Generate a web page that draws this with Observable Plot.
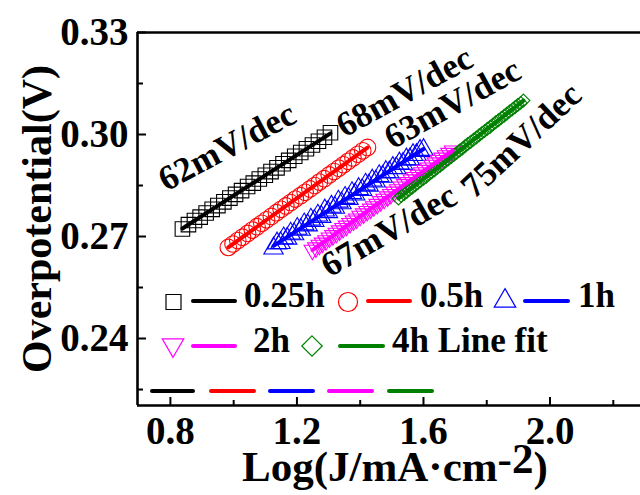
<!DOCTYPE html>
<html><head><meta charset="utf-8">
<script src="https://cdn.jsdelivr.net/npm/d3@7"></script>
<script src="https://cdn.jsdelivr.net/npm/@observablehq/plot@0.6"></script>
<style>body{margin:0;background:#fff}#chart svg{display:block}</style>
</head><body><div id="chart"></div>
<script>
// ---- data ----
const seriesNames = ["0.25h", "0.5h", "1h", "2h", "4h"];
const seriesColors = ["#000000", "#ff0000", "#0000ff", "#ff00ff", "#008000"];

const x025 = [0.838,0.857,0.876,0.894,0.913,0.932,0.950,0.969,0.988,1.006,1.025,1.044,1.062,1.081,1.100,1.118,1.137,1.156,1.174,1.193,1.212,1.230,1.249,1.268,1.287,1.306];
const y025 = [0.2722,0.2735,0.2747,0.2757,0.2769,0.2780,0.2791,0.2802,0.2813,0.2824,0.2835,0.2847,0.2857,0.2869,0.2880,0.2891,0.2902,0.2914,0.2924,0.2936,0.2947,0.2958,0.2969,0.2980,0.2992,0.3005];

const x05 = [0.983,0.998,1.013,1.028,1.044,1.059,1.074,1.089,1.104,1.119,1.135,1.150,1.165,1.180,1.195,1.211,1.226,1.241,1.256,1.271,1.286,1.302,1.317,1.332,1.347,1.362,1.377,1.393,1.408,1.423];
const y05 = [0.2668,0.2678,0.2688,0.2698,0.2709,0.2719,0.2729,0.2739,0.2749,0.2759,0.2770,0.2780,0.2790,0.2800,0.2810,0.2820,0.2830,0.2840,0.2850,0.2860,0.2870,0.2881,0.2891,0.2901,0.2911,0.2921,0.2931,0.2942,0.2952,0.2962];

const x1 = [1.126,1.137,1.148,1.158,1.169,1.180,1.191,1.201,1.212,1.223,1.234,1.244,1.255,1.266,1.277,1.288,1.298,1.309,1.320,1.331,1.341,1.352,1.363,1.374,1.384,1.395,1.406,1.417,1.427,1.438,1.449,1.460,1.471,1.481,1.492,1.503,1.514,1.524,1.535,1.546,1.557,1.567,1.578,1.589,1.600];
const y1 = [0.2665,0.2680,0.2681,0.2695,0.2694,0.2709,0.2707,0.2723,0.2720,0.2736,0.2733,0.2750,0.2746,0.2762,0.2758,0.2777,0.2772,0.2788,0.2785,0.2803,0.2798,0.2814,0.2811,0.2828,0.2824,0.2840,0.2837,0.2853,0.2850,0.2865,0.2862,0.2878,0.2876,0.2890,0.2889,0.2902,0.2901,0.2915,0.2914,0.2927,0.2927,0.2940,0.2940,0.2952,0.2955];

const x2 = [1.249,1.260,1.271,1.281,1.292,1.303,1.314,1.325,1.335,1.346,1.357,1.368,1.379,1.389,1.400,1.411,1.422,1.433,1.443,1.454,1.465,1.476,1.487,1.497,1.508,1.519,1.530,1.541,1.551,1.562,1.573,1.584,1.595,1.605,1.616,1.627,1.638,1.649,1.659,1.670,1.681,1.692];
const y2 = [0.2660,0.2667,0.2675,0.2681,0.2688,0.2696,0.2703,0.2710,0.2717,0.2724,0.2731,0.2739,0.2746,0.2752,0.2760,0.2767,0.2774,0.2781,0.2788,0.2795,0.2803,0.2810,0.2817,0.2824,0.2831,0.2838,0.2846,0.2853,0.2859,0.2867,0.2874,0.2881,0.2888,0.2895,0.2902,0.2910,0.2917,0.2924,0.2931,0.2938,0.2945,0.2952];

const x4 = [1.521,1.530,1.539,1.547,1.556,1.565,1.574,1.582,1.591,1.600,1.609,1.618,1.626,1.635,1.644,1.653,1.661,1.670,1.679,1.688,1.697,1.705,1.714,1.723,1.732,1.740,1.749,1.758,1.767,1.776,1.784,1.793,1.802,1.811,1.819,1.828,1.837,1.846,1.855,1.863,1.872,1.881,1.890,1.898,1.907,1.916];
const y4 = [0.2812,0.2819,0.2825,0.2831,0.2838,0.2844,0.2851,0.2857,0.2863,0.2870,0.2876,0.2883,0.2889,0.2895,0.2902,0.2908,0.2914,0.2921,0.2927,0.2934,0.2940,0.2946,0.2953,0.2959,0.2966,0.2972,0.2978,0.2985,0.2991,0.2998,0.3004,0.3010,0.3017,0.3023,0.3029,0.3036,0.3042,0.3049,0.3055,0.3061,0.3068,0.3074,0.3081,0.3087,0.3093,0.3100];

const slopeLabels = ["62mV/dec", "68mV/dec", "63mV/dec", "67mV/dec", "75mV/dec"];
const slopeLabelX = [0.787, 1.350, 1.502, 1.303, 1.760];
const slopeLabelY = [0.2832, 0.2990, 0.2955, 0.2579, 0.2808];
const slopeLabelAngle = [-28, -29, -29, -30, -43];

const xTicks = [0.8, 1.2, 1.6, 2.0];
const xMinorTicks = [1.0, 1.4, 1.8, 2.2];
const yTicks = [0.24, 0.27, 0.30, 0.33];
const yMinorTicks = [0.225, 0.255, 0.285, 0.315];
const xDomain = [0.696, 2.286];
const yDomain = [0.2203, 0.33];

// ---- build table ----
const seriesX = [x025, x05, x1, x2, x4];
const seriesY = [y025, y05, y1, y2, y4];
const rows = seriesNames.flatMap((s, i) => seriesX[i].map((x, j) => ({series: s, x, y: seriesY[i][j]})));
const annotations = slopeLabels.map((t, i) => ({text: t, x: slopeLabelX[i], y: slopeLabelY[i], angle: slopeLabelAngle[i]}));

const W = 640, H = 495, mL = 137, mR = 0, mT = 32, mB = 90;
const pw = W - mL - mR, ph = H - mT - mB;
const font = "Liberation Serif, Times New Roman, serif";

const symbolStyle = [
  {symbol: "square", r: 8.2, rotate: 0},
  {symbol: "circle", r: 8.3, rotate: 0},
  {symbol: "triangle", r: 7.2, rotate: 0},
  {symbol: "triangle", r: 6.2, rotate: 180},
  {symbol: "diamond2", r: 5.8, rotate: 0}
];

const dotMarks = seriesNames.map((s, i) => Plot.dot(rows.filter(d => d.series === s), {
  x: "x", y: "y", symbol: symbolStyle[i].symbol, r: symbolStyle[i].r, rotate: symbolStyle[i].rotate,
  stroke: seriesColors[i], fill: "none", strokeWidth: 1.1
}));

const chart = Plot.plot({
  width: W, height: H,
  marginLeft: mL, marginRight: mR, marginTop: mT, marginBottom: mB,
  x: {domain: xDomain},
  y: {domain: yDomain},
  color: {domain: seriesNames, range: seriesColors},
  style: {fontFamily: font, background: "white", color: "black", overflow: "visible"},
  marks: [
    ...dotMarks,
    Plot.linearRegressionY(rows, {x: "x", y: "y", stroke: "series", ci: 0, strokeWidth: 4}),
    Plot.ruleX([xDomain[0]], {stroke: "black", strokeWidth: 2.6}),
    Plot.ruleY([yDomain[0]], {stroke: "black", strokeWidth: 2.6}),
    Plot.ruleY([yDomain[1]], {stroke: "black", strokeWidth: 2.6}),
    Plot.tickY(yTicks, {y: d => d, insetRight: pw - 9, stroke: "black", strokeWidth: 2}),
    Plot.tickY(yMinorTicks, {y: d => d, insetRight: pw - 6, stroke: "black", strokeWidth: 2}),
    Plot.tickX(xTicks, {x: d => d, insetTop: ph - 8, stroke: "black", strokeWidth: 2}),
    Plot.tickX(xMinorTicks, {x: d => d, insetTop: ph - 5, stroke: "black", strokeWidth: 2}),
    Plot.axisY({ticks: yTicks, tickSize: 0, tickPadding: 9, tickFormat: d3.format(".2f"), fontSize: 39, fontWeight: "bold", label: null}),
    Plot.axisX({ticks: xTicks, tickSize: 0, tickPadding: 11, tickFormat: d3.format(".1f"), fontSize: 39, fontWeight: "bold", label: null}),
    Plot.text(annotations, {x: "x", y: "y", text: "text", rotate: "angle", textAnchor: "start", lineAnchor: "bottom", fontSize: 35, fontWeight: "bold", fill: "black"}),
    Plot.text(["Overpotential(V)"], {frameAnchor: "left", dx: -100, rotate: -90, textAnchor: "middle", lineAnchor: "middle", fontSize: 42, fontWeight: "bold", fill: "black"})
  ]
});

document.getElementById("chart").appendChild(chart);

// ---- x-axis title with superscript ----
const svg = d3.select(chart);
const xt = svg.append("text").attr("x", 242).attr("y", 481).attr("text-anchor", "start")
  .attr("font-family", font).attr("font-size", 43).attr("font-weight", "bold").attr("fill", "black");
xt.append("tspan").text("Log(J/mA\u00B7cm");
xt.append("tspan").attr("dy", -8).text("-2");
xt.append("tspan").attr("dy", 8).text(")");

// ---- in-plot legend ----
const lg = svg.append("g").attr("font-family", font).attr("font-weight", "bold").attr("font-size", 35).attr("text-anchor", "start");
function seg(x1, x2, y, c) {
  lg.append("line").attr("x1", x1).attr("x2", x2).attr("y1", y).attr("y2", y)
    .attr("stroke", c).attr("stroke-width", 4).attr("stroke-linecap", "round");
}
function label(x, y, t) { lg.append("text").attr("x", x).attr("y", y).attr("fill", "black").attr("text-anchor", "start").text(t); }
const sym = (type, size, rot, cx, cy, c) => lg.append("path")
  .attr("d", d3.symbol(type, size)()).attr("transform", `translate(${cx},${cy}) rotate(${rot})`)
  .attr("fill", "none").attr("stroke", c).attr("stroke-width", 1.2);

// row 1
sym(d3.symbolSquare, 15 * 15, 0, 173.5, 302, seriesColors[0]);
seg(193, 235, 301, seriesColors[0]); label(244, 307, "0.25h");
sym(d3.symbolCircle, Math.PI * 9.5 * 9.5, 0, 348, 302, seriesColors[1]);
seg(368, 410, 301, seriesColors[1]); label(420, 307, "0.5h");
sym(d3.symbolTriangle, 200, 0, 505, 301, seriesColors[2]);
seg(525, 568, 301, seriesColors[2]); label(578, 307, "1h");
// row 2
sym(d3.symbolTriangle, 200, 180, 173, 345, seriesColors[3]);
seg(193, 235, 346, seriesColors[3]); label(253, 352, "2h");
sym(d3.symbolDiamond2, 265, 0, 312, 346, seriesColors[4]);
seg(340, 383, 346, seriesColors[4]); label(392, 352, "4h Line fit");
// row 3: line-fit swatches
[[152, 193], [211, 254], [270, 313], [329, 372], [389, 432]].forEach(([a, b], i) => seg(a, b, 391, seriesColors[i]));
</script>
</body></html>
